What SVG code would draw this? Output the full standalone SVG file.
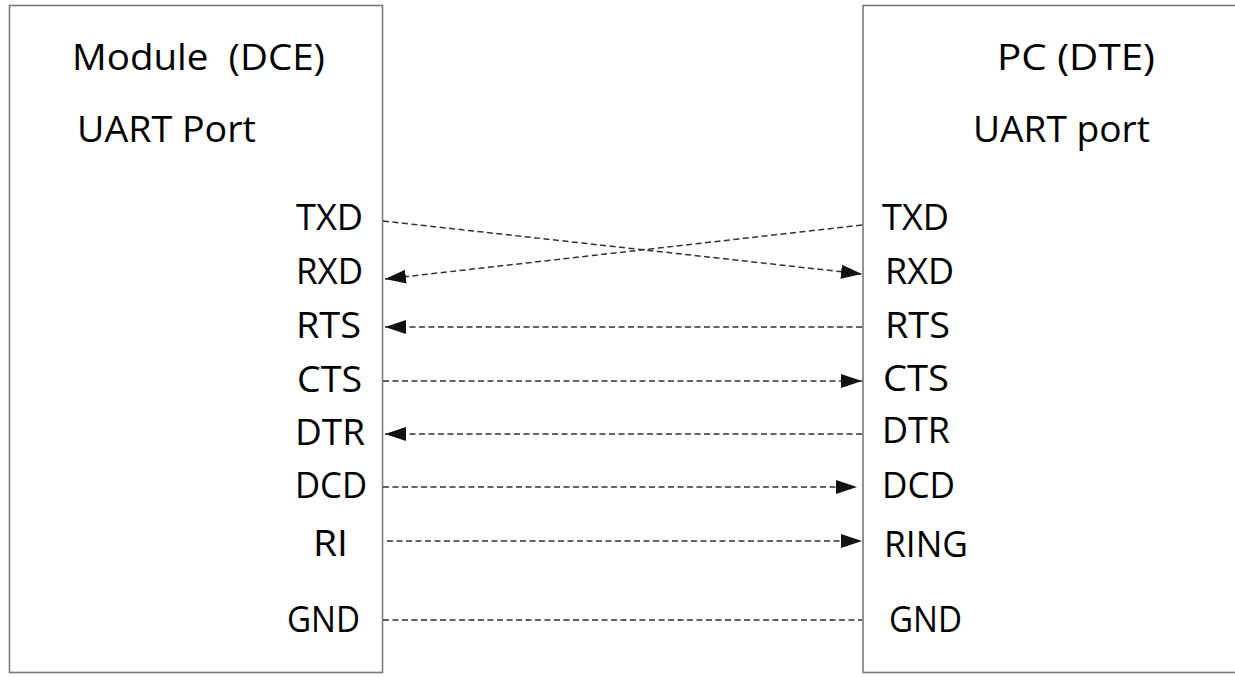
<svg xmlns="http://www.w3.org/2000/svg" width="1235" height="677" viewBox="0 0 1235 677">
<style>
.box{fill:#ffffff;stroke:#7a7a7a;stroke-width:1.6}
.t{font-family:"Open Sans","Noto Sans",sans-serif;font-size:37px;fill:#000}
.c{fill:none;stroke:#333;stroke-width:1.5;stroke-dasharray:6 3.5}
</style>
<defs>
<marker id="ah" markerUnits="userSpaceOnUse" markerWidth="22" markerHeight="16" viewBox="0 0 22 16" refX="21" refY="8" orient="auto">
<path d="M0,1 L21,8 L0,15 Z" fill="#111"/>
</marker>
</defs>
<rect width="1235" height="677" fill="#fff"/>
<g id="module">
<rect class="box" x="9.5" y="5.5" width="373" height="667"/>
<text class="t" x="72" y="70" xml:space="preserve" textLength="253" lengthAdjust="spacingAndGlyphs">Module  (DCE)</text>
<text class="t" x="77" y="142" textLength="179" lengthAdjust="spacingAndGlyphs">UART Port</text>
<text class="t" x="296" y="230" textLength="67" lengthAdjust="spacingAndGlyphs">TXD</text>
<text class="t" x="296" y="284" textLength="67" lengthAdjust="spacingAndGlyphs">RXD</text>
<text class="t" x="296" y="338" textLength="65" lengthAdjust="spacingAndGlyphs">RTS</text>
<text class="t" x="297" y="392" textLength="65" lengthAdjust="spacingAndGlyphs">CTS</text>
<text class="t" x="295" y="445" textLength="70" lengthAdjust="spacingAndGlyphs">DTR</text>
<text class="t" x="295" y="498" textLength="72" lengthAdjust="spacingAndGlyphs">DCD</text>
<text class="t" x="313" y="556" textLength="35" lengthAdjust="spacingAndGlyphs">RI</text>
<text class="t" x="287" y="632" textLength="73" lengthAdjust="spacingAndGlyphs">GND</text>
</g>
<g id="pc">
<rect class="box" x="863" y="5.5" width="390" height="667"/>
<text class="t" x="997" y="70" textLength="158" lengthAdjust="spacingAndGlyphs">PC (DTE)</text>
<text class="t" x="973" y="142" textLength="177" lengthAdjust="spacingAndGlyphs">UART port</text>
<text class="t" x="882" y="230" textLength="67" lengthAdjust="spacingAndGlyphs">TXD</text>
<text class="t" x="885" y="284" textLength="69" lengthAdjust="spacingAndGlyphs">RXD</text>
<text class="t" x="885" y="338" textLength="65" lengthAdjust="spacingAndGlyphs">RTS</text>
<text class="t" x="883" y="391" textLength="66" lengthAdjust="spacingAndGlyphs">CTS</text>
<text class="t" x="882" y="443" textLength="68" lengthAdjust="spacingAndGlyphs">DTR</text>
<text class="t" x="882" y="498" textLength="73" lengthAdjust="spacingAndGlyphs">DCD</text>
<text class="t" x="884" y="557" textLength="84" lengthAdjust="spacingAndGlyphs">RING</text>
<text class="t" x="889" y="632" textLength="73" lengthAdjust="spacingAndGlyphs">GND</text>
</g>
<g id="connectors">
<line class="c" x1="383" y1="221" x2="862" y2="274" marker-end="url(#ah)"/>
<line class="c" x1="862" y1="225" x2="385" y2="279" marker-end="url(#ah)"/>
<line class="c" x1="862" y1="327" x2="385" y2="327" marker-end="url(#ah)"/>
<line class="c" x1="383" y1="381" x2="862" y2="381" marker-end="url(#ah)"/>
<line class="c" x1="862" y1="434" x2="385" y2="434" marker-end="url(#ah)"/>
<line class="c" x1="383" y1="487" x2="857" y2="487" marker-end="url(#ah)"/>
<line class="c" x1="387" y1="541" x2="862" y2="541" marker-end="url(#ah)"/>
<line class="c" x1="383" y1="620" x2="862" y2="620"/>
</g>
</svg>
